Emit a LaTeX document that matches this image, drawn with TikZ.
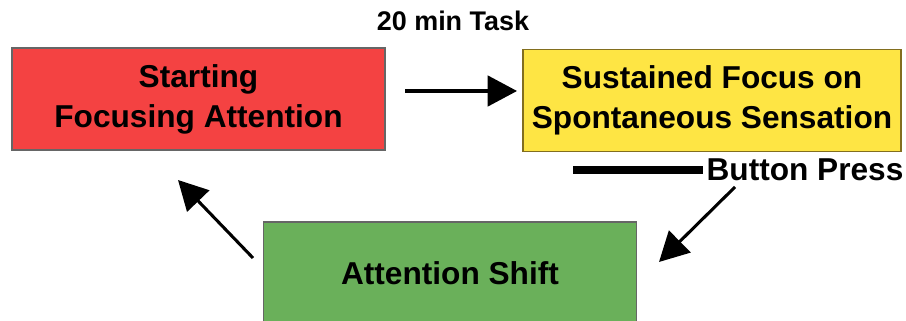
\documentclass[tikz,border=0pt]{standalone}
\usepackage{fontspec}
\setmainfont{Liberation Sans}
\usetikzlibrary{arrows.meta}
\definecolor{boxred}{RGB}{244,66,66}
\definecolor{boxyellow}{RGB}{254,229,68}
\definecolor{boxgreen}{RGB}{106,176,90}
\definecolor{edgegray}{RGB}{102,102,102}
\definecolor{edgegold}{RGB}{130,110,30}
\tikzset{
    stagebox/.style={
        draw=edgegray,
        line width=1.2pt,
        minimum width=11.2cm,
        minimum height=3.06cm,
        inner sep=0pt,
        align=center,
        font=\bfseries\fontsize{27}{34}\selectfont
    },
    % arrows between the stages
    flowarrow/.style={
        line width=2.6pt,
        black,
        -{Triangle[length=25pt, width=26pt]}
    },
    pressbar/.style={line width=6pt, black}
}

\begin{document}
\begin{tikzpicture}[x=0.03cm, y=-0.03cm]
    \useasboundingbox (0,0) rectangle (906,321);
    \node[stagebox, fill=boxred] (start) at (198.5,99) {Starting\\Focusing Attention};
    \node[stagebox, fill=boxyellow, draw=edgegold, minimum width=11.34cm] (focus) at (712,100.5) {Sustained Focus on\\Spontaneous Sensation};
    \node[stagebox, fill=boxgreen] (shift) at (450,273) {Attention Shift};

    \node[font=\bfseries\fontsize{23}{28}\selectfont, inner sep=0pt] (task) at (453,21) {20 min Task};
    \node[font=\bfseries\fontsize{27}{34}\selectfont, inner sep=0pt] (button) at (805,170) {Button Press};

    \coordinate (taskout) at (405,91);
    \coordinate (taskin) at (517,91);
    \coordinate (presstail) at (735,187);
    \coordinate (shiftin) at (659,262);
    \coordinate (shiftout) at (253,258);
    \coordinate (startin) at (178,180);

    \draw[flowarrow] (taskout) -- (taskin);
    \draw[pressbar] ([xshift=-3pt]button.west) -- ++(-130,0);
    \draw[flowarrow] (presstail) -- (shiftin);
    \draw[flowarrow] (shiftout) -- (startin);
\end{tikzpicture}
\end{document}
